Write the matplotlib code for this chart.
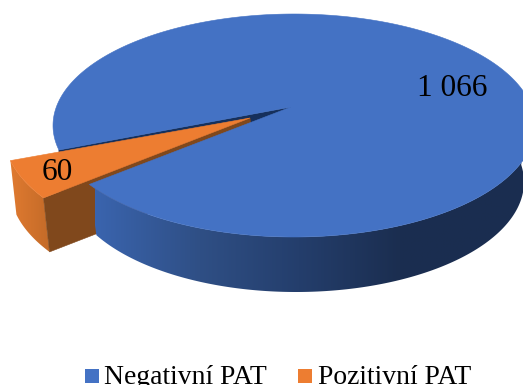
import numpy as np
import matplotlib
matplotlib.use("Agg")
import matplotlib.pyplot as plt
from matplotlib.colors import LinearSegmentedColormap
from matplotlib.patches import Polygon, Rectangle

categories = ["Negativní PAT", "Pozitivní PAT"]
values = [1066, 60]
value_labels = ["1 066", "60"]

BLUE, ORANGE = "#4472c4", "#ed7d31"
NAVY, BROWN = "#16305c", "#80481c"

# Projected ellipses of the disc: (cx, cy, a, b)
BLUE_TOP = (294, 125.5, 241, 111.5)
BLUE_BOTTOM = (296, 182, 228, 110)
ORANGE_TOP = (266, 134, 262, 121)
ORANGE_DROP = (6, 54)
BLUE_APEX = np.array([291, 107])
ORANGE_APEX = np.array([250, 118])
START_ANGLE = 192.7

sweep = 360 * values[1] / sum(values)
t_upper, t_lower = START_ANGLE, START_ANGLE + sweep


def arc(ellipse, t0, t1, n=200):
    cx, cy, a, b = ellipse
    t = np.radians(np.linspace(t0, t1, n))
    return np.column_stack([cx + a * np.cos(t), cy - b * np.sin(t)])


fig = plt.figure(figsize=(5.23, 3.85), dpi=100)
ax = fig.add_axes([0, 0, 1, 1])
ax.set_xlim(0, 523)
ax.set_ylim(385, 0)
ax.axis("off")


def fill(points, color, z):
    ax.add_patch(Polygon(points, closed=True, facecolor=color,
                         edgecolor=color, linewidth=0.4, zorder=z))


def shaded(points, cmap, x0, x1, y0, y1, z):
    # Horizontal gradient clipped to the outline of a wall
    ramp = np.linspace(0, 1, 512)[None, :]
    image = ax.imshow(ramp, cmap=cmap, extent=(x0, x1, y1, y0), aspect="auto",
                      interpolation="bilinear", zorder=z)
    outline = Polygon(points, closed=True, transform=ax.transData,
                      facecolor="none", edgecolor="none")
    ax.add_patch(outline)
    image.set_clip_path(outline)


# Cut face of the large slice, seen through the gap
upper_pt = arc(BLUE_TOP, t_upper, t_upper, 1)[0]
fill([BLUE_APEX, upper_pt, upper_pt + (2, 55), BLUE_APEX + (2, 55)], NAVY, 1)

# Pulled-out slice: outer rim, cut face, top
rim_cmap = LinearSegmentedColormap.from_list("rim", ["#e07a30", "#c26a28"])
rim_top = arc(ORANGE_TOP, t_upper, t_lower)
shaded(np.vstack([rim_top, (rim_top + ORANGE_DROP)[::-1]]), rim_cmap, 10, 52, 150, 260, 2)
corner = rim_top[-1]
fill([ORANGE_APEX, corner, corner + ORANGE_DROP, ORANGE_APEX + ORANGE_DROP], BROWN, 3)
fill(np.vstack([[ORANGE_APEX], rim_top]), ORANGE, 4)

# Front wall of the large slice, darkening to the right
wall_cmap = LinearSegmentedColormap.from_list(
    "wall", [(0.0, "#3a64ae"), (0.24, "#2f4f85"), (0.47, "#243e6c"),
             (0.70, "#1b2e50"), (1.0, "#1a2d50")])
wall_top = arc(BLUE_TOP, t_lower, 372, 300)
wall_bottom = arc(BLUE_BOTTOM, t_lower - 3, 369, 300)
shaded(np.vstack([wall_top, wall_bottom[::-1]]), wall_cmap, 95, 530, 120, 300, 5)

# Top of the large slice
fill(np.vstack([[BLUE_APEX], arc(BLUE_TOP, t_lower, t_upper + 360, 500)]), BLUE, 6)

text_style = dict(family="Liberation Serif", color="black", zorder=8)
ax.text(452, 88, value_labels[0], fontsize=22.5, ha="center", va="center", **text_style)
ax.text(57, 173, value_labels[1], fontsize=22.5, ha="center", va="center", **text_style)

# Legend row along the lower edge
for x0, text_x, name, color in zip((85, 298), (104, 318), categories, (BLUE, ORANGE)):
    ax.add_patch(Rectangle((x0, 369), 13.5, 13.5, facecolor=color, edgecolor="none", zorder=8))
    ax.text(text_x, 384, name, fontsize=19.9, ha="left", va="baseline", **text_style)

ax.set_xlim(0, 523)
ax.set_ylim(385, 0)
fig.savefig("out.png", dpi=100)
